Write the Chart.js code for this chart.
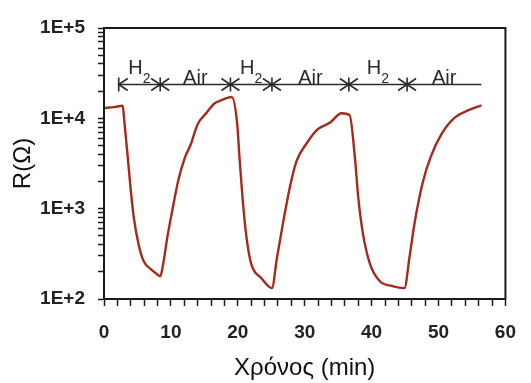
<!DOCTYPE html>
<html>
<head>
<meta charset="utf-8">
<script src="https://cdn.jsdelivr.net/npm/chart.js@4.4.1/dist/chart.umd.min.js"></script>
<style>
  html, body { margin: 0; background: #fff; }
  canvas { display: block; }
</style>
</head>
<body>
<canvas id="chart" width="531" height="383"></canvas>
<script>
// time (min) and resistance (ohm)
const timeMin = [
  0, 1.5, 2.8, 3.0, 3.55, 4.0, 4.45, 5.15, 5.9, 6.95, 7.8, 8.4,
  8.85, 9.45, 10.2, 11.1, 12.1, 12.9, 14.0, 15.4, 16.5, 17.5, 18.3, 19.1,
  19.9, 20.25, 20.7, 21.3, 22.0, 23.5, 25.1,
  25.85, 26.9, 27.9, 28.8, 30.3, 31.8, 33.8, 35.5, 36.7,
  37.5, 38.0, 38.7, 39.75, 41.2, 43.1, 44.9,
  45.65, 46.4, 47.6, 48.8, 50.5, 52.5, 54.5, 56.4
];
const resistance = [
  13000, 13300, 13800, 10000, 3700, 1600, 800, 410, 265, 215, 192, 178,
  245, 475, 950, 2050, 3700, 5000, 8600, 11700, 14600, 15800, 16700, 17200,
  8800, 3700, 1330, 480, 245, 171, 132,
  286, 795, 1900, 3400, 5300, 7400, 9000, 11400, 10900,
  3700, 1330, 530, 245, 158, 139, 132,
  286, 680, 1900, 3700, 6800, 10300, 12300, 13900
];

// gas phases marked above the curve
const phaseBounds = [2.2, 8.4, 18.9, 25.1, 36.6, 45.3, 56.4];
const phaseNames = ['H', 'Air', 'H', 'Air', 'H', 'Air'];
const phaseSubs = ['2', '', '2', '', '2', ''];
const phaseLevel = 24000;

const xTickLabels = [0, 10, 20, 30, 40, 50, 60];
const yDecades = [100, 1000, 10000, 100000];
const yTickLabels = ['1E+2', '1E+3', '1E+4', '1E+5'];

const ink = '#1a1a1a';
const fontFamily = '"Liberation Sans", Arial, sans-serif';

const boxPlugin = {
  id: 'box',
  afterDraw(chart) {
    const { ctx, chartArea: a } = chart;
    ctx.save();
    ctx.strokeStyle = ink;
    ctx.lineWidth = 2;
    ctx.strokeRect(a.left, a.top, a.right - a.left, a.bottom - a.top);
    ctx.restore();
  }
};

const phasePlugin = {
  id: 'phases',
  afterDatasetsDraw(chart) {
    const { ctx, scales: { x, y } } = chart;
    const ly = Math.round(y.getPixelForValue(phaseLevel)) + 0.5;
    const px = phaseBounds.map(b => x.getPixelForValue(b));
    ctx.save();
    ctx.strokeStyle = '#2a2a2a';
    ctx.lineWidth = 1.6;
    ctx.beginPath();
    ctx.moveTo(px[0], ly);
    ctx.lineTo(px[px.length - 1], ly);
    ctx.stroke();

    px.forEach((bx, i) => {
      if (i === px.length - 1) return;
      ctx.beginPath();
      ctx.moveTo(bx, ly - 7);
      ctx.lineTo(bx, ly + 7);
      ctx.moveTo(bx + 9, ly - 6);
      ctx.lineTo(bx, ly);
      ctx.lineTo(bx + 9, ly + 6);
      if (i > 0) {
        ctx.moveTo(bx - 9, ly - 6);
        ctx.lineTo(bx, ly);
        ctx.lineTo(bx - 9, ly + 6);
      }
      ctx.stroke();
    });

    ctx.fillStyle = '#2a2a2a';
    ctx.textBaseline = 'alphabetic';
    phaseNames.forEach((name, i) => {
      const mid = (px[i] + px[i + 1]) / 2;
      const sub = phaseSubs[i];
      ctx.font = '20px ' + fontFamily;
      const w1 = ctx.measureText(name).width;
      ctx.font = '14px ' + fontFamily;
      const w2 = sub ? ctx.measureText(sub).width : 0;
      const left = mid - (w1 + w2) / 2;
      ctx.font = '20px ' + fontFamily;
      ctx.fillText(name, left, sub ? ly - 11 : ly - 1);
      if (sub) {
        ctx.font = '14px ' + fontFamily;
        ctx.fillText(sub, left + w1, ly - 2);
      }
    });
    ctx.restore();
  }
};

new Chart(document.getElementById('chart'), {
  type: 'line',
  data: {
    datasets: [{
      data: timeMin.map((t, i) => ({ x: t, y: resistance[i] })),
      borderColor: '#a52a1c',
      borderWidth: 2.4,
      pointRadius: 0,
      cubicInterpolationMode: 'monotone',
      fill: false
    }]
  },
  options: {
    responsive: false,
    devicePixelRatio: 1,
    animation: false,
    layout: { padding: { left: 0, top: 28, right: 22, bottom: 0 } },
    plugins: {
      legend: { display: false },
      tooltip: { enabled: false }
    },
    scales: {
      x: {
        type: 'linear',
        min: 0,
        max: 60,
        afterFit: s => { s.height = 84; },
        afterBuildTicks: s => {
          const ticks = [];
          for (let v = 0; v <= 60; v += 2) ticks.push({ value: v });
          s.ticks = ticks;
        },
        grid: { drawOnChartArea: false, drawTicks: true, tickLength: 7, color: ink, tickWidth: 1.5 },
        border: { display: true, color: ink, width: 2 },
        ticks: {
          autoSkip: false,
          maxRotation: 0,
          padding: 15,
          color: '#222',
          font: { family: fontFamily, size: 19, weight: 'bold' },
          callback: v => xTickLabels.includes(v) ? String(v) : ''
        },
        title: {
          display: true,
          text: 'Χρόνος (min)',
          color: '#111',
          padding: { top: 0, bottom: 0 },
          font: { family: fontFamily, size: 24 }
        }
      },
      y: {
        type: 'logarithmic',
        min: 100,
        max: 100000,
        afterFit: s => { s.width = 104; },
        afterBuildTicks: s => {
          const ticks = [];
          yDecades.forEach((d, i) => {
            ticks.push({ value: d, major: true });
            if (i < yDecades.length - 1) {
              for (let k = 2; k <= 9; k++) ticks.push({ value: d * k });
            }
          });
          s.ticks = ticks;
        },
        grid: { drawOnChartArea: false, drawTicks: true, tickLength: 6, color: ink, tickWidth: 1.5 },
        border: { display: true, color: ink, width: 2 },
        ticks: {
          autoSkip: false,
          padding: 13,
          color: '#222',
          font: { family: fontFamily, size: 19, weight: 'bold' },
          callback: v => {
            const i = yDecades.indexOf(v);
            return i >= 0 ? yTickLabels[i] : '';
          }
        },
        title: {
          display: true,
          text: 'R(Ω)',
          color: '#111',
          padding: { top: 9, bottom: 0 },
          font: { family: fontFamily, size: 24 }
        }
      }
    }
  },
  plugins: [boxPlugin, phasePlugin]
});
</script>
</body>
</html>
